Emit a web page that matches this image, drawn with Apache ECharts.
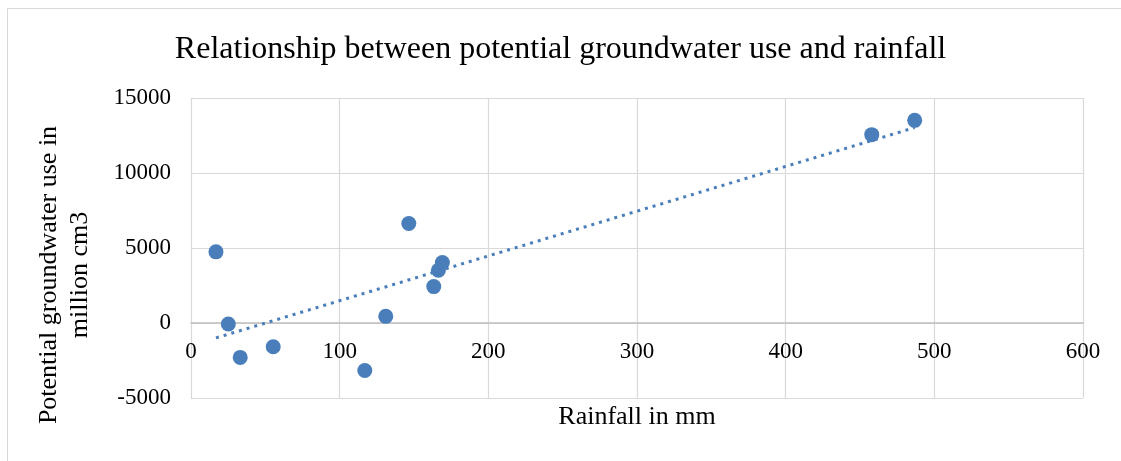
<!DOCTYPE html>
<html>
<head>
<meta charset="utf-8">
<script src="https://cdn.jsdelivr.net/npm/echarts@6/dist/echarts.min.js"></script>
<style>html,body{margin:0;padding:0;background:#fff}#c{width:1121px;height:461px}</style>
</head>
<body>
<div id="c"></div>
<script>
const rainfall = [16.8, 25.1, 33.1, 55.3, 116.9, 131.0, 146.5, 163.3, 166.4, 169.1, 457.9, 486.8];
const groundwater = [4743, -67, -2292, -1581, -3163, 445, 6635, 2427, 3519, 4030, 12556, 13511];
const xTicks = [0, 100, 200, 300, 400, 500, 600];
const yTicks = [-5000, 0, 5000, 10000, 15000];

const points = rainfall.map((x, i) => [x, groundwater[i]]);
// linear least-squares trendline (as in the spreadsheet)
const n = rainfall.length;
const mx = rainfall.reduce((a, b) => a + b, 0) / n;
const my = groundwater.reduce((a, b) => a + b, 0) / n;
let sxy = 0, sxx = 0;
for (let i = 0; i < n; i++) { sxy += (rainfall[i] - mx) * (groundwater[i] - my); sxx += (rainfall[i] - mx) ** 2; }
const slope = sxy / sxx, icpt = my - slope * mx;
const xmin = Math.min(...rainfall), xmax = Math.max(...rainfall);
const trend = [[xmin, icpt + slope * xmin], [xmax, icpt + slope * xmax]];

const W = 1121, H = 461;
const gridTop = 98, gridBottom = 63;
const yMin = yTicks[0], yMax = yTicks[yTicks.length - 1];
// x axis (line + labels) sits on y = 0
const zeroOffset = -(H - gridTop - gridBottom) * (0 - yMin) / (yMax - yMin);

const font = '"Liberation Serif", "Times New Roman", serif';
const chart = echarts.init(document.getElementById('c'), null, { renderer: 'canvas' });
chart.setOption({
  animation: false,
  backgroundColor: '#fff',
  title: {
    text: 'Relationship between potential groundwater use and rainfall',
    left: 'center', top: 29,
    textStyle: { fontFamily: font, fontSize: 32, fontWeight: 'normal', color: '#000' }
  },
  graphic: [{
    type: 'rect', shape: { x: 7.5, y: 8.5, width: 1200, height: 600 },
    style: { fill: 'none', stroke: '#d9d9d9', lineWidth: 1 }, silent: true
  }],
  grid: { left: 191, right: 38, top: gridTop, bottom: gridBottom, containLabel: false, outerBoundsMode: 'none' },
  xAxis: {
    type: 'value', min: xTicks[0], max: xTicks[xTicks.length - 1], interval: 100,
    offset: zeroOffset,
    name: 'Rainfall in mm', nameLocation: 'middle', nameGap: 81, nameMoveOverlap: false,
    nameTextStyle: { fontFamily: font, fontSize: 26, color: '#000' },
    axisLine: { onZero: false, lineStyle: { color: '#bfbfbf', width: 1.5 } },
    axisTick: { show: false },
    axisLabel: { fontFamily: font, fontSize: 23, color: '#000', margin: 17, formatter: v => String(v) },
    splitLine: { show: true, lineStyle: { color: '#d9d9d9', width: 1.2 } }
  },
  yAxis: {
    type: 'value', min: yMin, max: yMax, interval: 5000,
    name: 'Potential groundwater use in\nmillion cm3', nameLocation: 'middle', nameGap: 95,
    nameRotate: 90, nameMoveOverlap: false,
    nameTextStyle: { fontFamily: font, fontSize: 26, color: '#000', lineHeight: 31, align: 'center', padding: [0, 54, 0, 0] },
    axisLine: { show: false },
    axisTick: { show: false },
    axisLabel: { fontFamily: font, fontSize: 23, color: '#000', margin: 20, formatter: v => String(v) },
    splitLine: { show: true, lineStyle: { color: '#d9d9d9', width: 1.2 } }
  },
  series: [
    {
      type: 'line', data: trend, symbol: 'none', silent: true, z: 1,
      lineStyle: { color: '#4a7ebb', width: 3, type: [3, 5] }
    },
    {
      type: 'scatter', data: points, symbol: 'circle', symbolSize: 15, z: 2,
      itemStyle: { color: '#4a7ebb', opacity: 1 }
    }
  ]
});
</script>
</body>
</html>
